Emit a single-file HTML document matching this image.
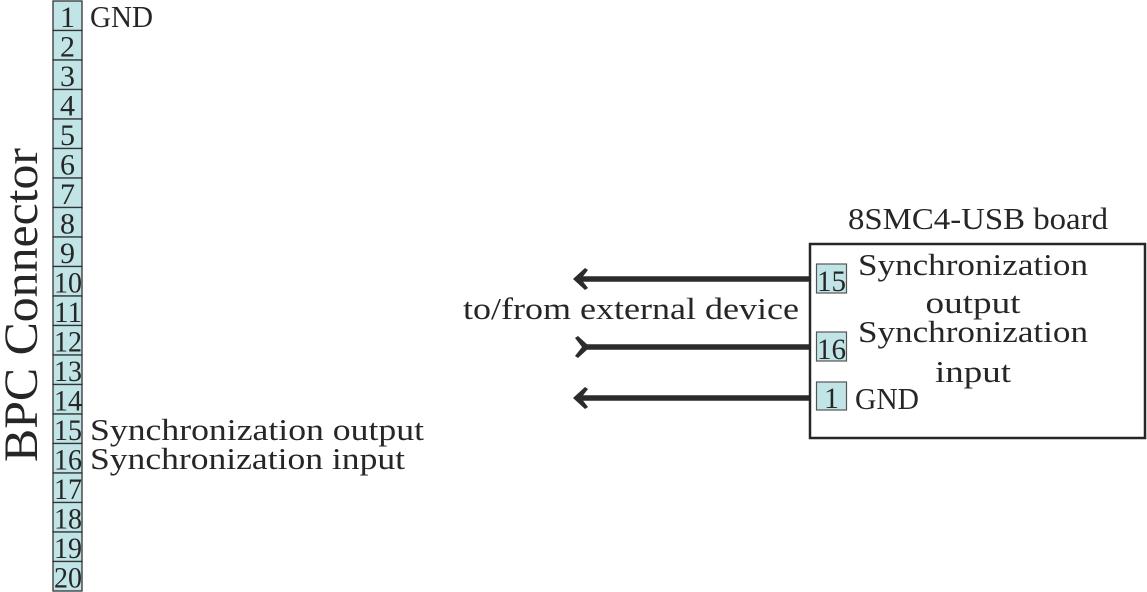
<!DOCTYPE html>
<html><head><meta charset="utf-8"><style>
html,body{margin:0;padding:0;background:#fff;}
svg{display:block;}
text{font-family:"Liberation Serif",serif;fill:#262626;}
</style></head><body>
<svg width="1147" height="592" viewBox="0 0 1147 592" xmlns="http://www.w3.org/2000/svg">
<g stroke="#333" stroke-width="1.3" fill="#c1e4e6">
<rect x="53" y="1" width="29" height="29.5"/><rect x="53" y="30.5" width="29" height="29.5"/><rect x="53" y="60" width="29" height="29.5"/><rect x="53" y="89.5" width="29" height="29.5"/><rect x="53" y="119" width="29" height="29.5"/><rect x="53" y="148.5" width="29" height="29.5"/><rect x="53" y="178" width="29" height="29.5"/><rect x="53" y="207.5" width="29" height="29.5"/><rect x="53" y="237" width="29" height="29.5"/><rect x="53" y="266.5" width="29" height="29.5"/><rect x="53" y="296" width="29" height="29.5"/><rect x="53" y="325.5" width="29" height="29.5"/><rect x="53" y="355" width="29" height="29.5"/><rect x="53" y="384.5" width="29" height="29.5"/><rect x="53" y="414" width="29" height="29.5"/><rect x="53" y="443.5" width="29" height="29.5"/><rect x="53" y="473" width="29" height="29.5"/><rect x="53" y="502.5" width="29" height="29.5"/><rect x="53" y="532" width="29" height="29.5"/><rect x="53" y="561.5" width="29" height="29.5"/>
</g>
<g font-size="30" text-anchor="middle">
<text x="67.5" y="27">1</text><text x="67.5" y="56.5">2</text><text x="67.5" y="86">3</text><text x="67.5" y="115.5">4</text><text x="67.5" y="145">5</text><text x="67.5" y="174.5">6</text><text x="67.5" y="204">7</text><text x="67.5" y="233.5">8</text><text x="67.5" y="263">9</text>
</g>
<g font-size="30">
<text x="54" y="292.5" textLength="28" lengthAdjust="spacingAndGlyphs">10</text><text x="54" y="322" textLength="28" lengthAdjust="spacingAndGlyphs">11</text><text x="54" y="351.5" textLength="28" lengthAdjust="spacingAndGlyphs">12</text><text x="54" y="381" textLength="28" lengthAdjust="spacingAndGlyphs">13</text><text x="54" y="410.5" textLength="28" lengthAdjust="spacingAndGlyphs">14</text><text x="54" y="440" textLength="28" lengthAdjust="spacingAndGlyphs">15</text><text x="54" y="469.5" textLength="28" lengthAdjust="spacingAndGlyphs">16</text><text x="54" y="499" textLength="28" lengthAdjust="spacingAndGlyphs">17</text><text x="54" y="528.5" textLength="28" lengthAdjust="spacingAndGlyphs">18</text><text x="54" y="558" textLength="28" lengthAdjust="spacingAndGlyphs">19</text><text x="54" y="587.5" textLength="28" lengthAdjust="spacingAndGlyphs">20</text>
</g>
<g font-size="31">
<text x="90" y="27" textLength="63" lengthAdjust="spacingAndGlyphs">GND</text>
<text x="90" y="440" textLength="334" lengthAdjust="spacingAndGlyphs">Synchronization output</text>
<text x="90" y="469" textLength="315" lengthAdjust="spacingAndGlyphs">Synchronization input</text>
</g>
<text transform="translate(37,462) rotate(-90)" font-size="48" textLength="314" lengthAdjust="spacingAndGlyphs">BPC Connector</text>

<rect x="810" y="244" width="335" height="194" fill="none" stroke="#262626" stroke-width="2.5"/>
<text x="978" y="229" font-size="31" text-anchor="middle" textLength="260" lengthAdjust="spacingAndGlyphs">8SMC4-USB board</text>
<g stroke="#555" stroke-width="1.2" fill="#c1e4e6">
<rect x="816.5" y="264" width="30" height="29"/>
<rect x="816.5" y="332" width="30" height="29"/>
<rect x="816.5" y="382" width="30" height="28"/>
</g>
<g font-size="30">
<text x="817" y="291" textLength="29" lengthAdjust="spacingAndGlyphs">15</text>
<text x="817" y="359" textLength="29" lengthAdjust="spacingAndGlyphs">16</text>
<text x="831.5" y="408" text-anchor="middle">1</text>
</g>
<g font-size="31">
<text x="858" y="275" textLength="230" lengthAdjust="spacingAndGlyphs">Synchronization</text>
<text x="973" y="313" text-anchor="middle" textLength="95" lengthAdjust="spacingAndGlyphs">output</text>
<text x="858" y="342" textLength="230" lengthAdjust="spacingAndGlyphs">Synchronization</text>
<text x="973" y="382" text-anchor="middle" textLength="76" lengthAdjust="spacingAndGlyphs">input</text>
<text x="855" y="409" textLength="64" lengthAdjust="spacingAndGlyphs">GND</text>
<text x="463" y="319" textLength="336" lengthAdjust="spacingAndGlyphs">to/from external device</text>
</g>
<g stroke="#2b2b2b" stroke-width="5.5" fill="none">
<line x1="580" y1="279" x2="809" y2="279"/>
<line x1="583" y1="347" x2="809" y2="347"/>
<line x1="580" y1="398" x2="809" y2="398"/>
</g>
<g fill="#2b2b2b">
<path d="M573 279 L585 268 L588 270 L581 279 L588 288 L585 290 Z"/>
<path d="M590 347 L578 336 L575 338 L582 347 L575 356 L578 358 Z"/>
<path d="M573 398 L585 387 L588 389 L581 398 L588 407 L585 409 Z"/>
</g>
</svg>
</body></html>
